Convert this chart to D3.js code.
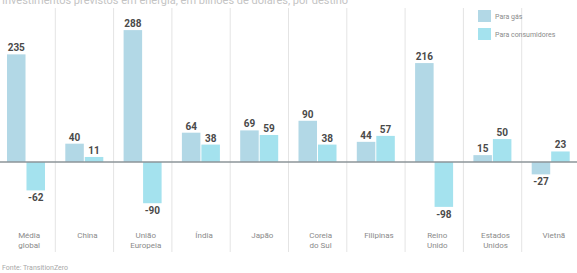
<!DOCTYPE html>
<meta charset="utf-8">
<style>
    body { margin: 0; background: #fff; }
    svg { display: block; font-family: "Liberation Sans Narrow", "Roboto", sans-serif; }
    .grid line { stroke: #e4e4e4; stroke-width: 1; }
    .val { fill: #4a4a4a; font-size: 10px; font-weight: bold; text-anchor: middle; }
    .cat { fill: #8a8a8a; font-size: 8px; text-anchor: middle; }
    .leg text { fill: #8a8a8a; font-size: 7px; }
</style>
<svg width="577" height="273"></svg>
<script src="https://d3js.org/d3.v7.min.js"></script>
<script>

    var categories = [["Média", "global"], ["China"], ["União", "Europeia"], ["Índia"], ["Japão"],
                      ["Coreia", "do Sul"], ["Filipinas"], ["Reino", "Unido"], ["Estados", "Unidos"], ["Vietnã"]];
    var paraGas = [235, 40, 288, 64, 69, 90, 44, 216, 15, -27];
    var paraConsumidores = [-62, 11, -90, 38, 59, 38, 57, -98, 50, 23];
    var seriesNames = ["Para gás", "Para consumidores"];
    var colors = ["#b2d8e6", "#a4e2ee"];

    var svg = d3.select("svg"),
        width = +svg.attr("width"),
        height = +svg.attr("height");

    var x0 = d3.scaleBand()
        .domain(d3.range(categories.length))
        .range([-3, width + 3]);

    var x1 = d3.scaleBand()
        .domain([0, 1])
        .range([10, 48])
        .paddingInner(0.05);

    var y = d3.scaleLinear()
        .domain([-100, 300])
        .range([207.8, 24.6]);

    // cut title line at the very top
    svg.append("text")
        .attr("x", 2)
        .attr("y", 4)
        .attr("fill", "#c4c4c4")
        .attr("font-size", "11px")
        .text("Investimentos previstos em energia, em bilhões de dólares, por destino");

    // separators between countries
    svg.append("g")
        .attr("class", "grid")
        .selectAll("line")
        .data(d3.range(1, categories.length))
        .enter().append("line")
        .attr("x1", function(i) { return x0(i); })
        .attr("x2", function(i) { return x0(i); })
        .attr("y1", 8)
        .attr("y2", 252);

    var rows = categories.map(function(c, i) {
        return [paraGas[i], paraConsumidores[i]];
    });

    var group = svg.append("g")
        .selectAll("g")
        .data(rows)
        .enter().append("g")
        .attr("transform", function(d, i) { return "translate(" + x0(i) + ",0)"; });

    group.selectAll("rect")
        .data(function(d) { return d; })
        .enter().append("rect")
        .attr("x", function(d, j) { return x1(j); })
        .attr("width", x1.bandwidth())
        .attr("y", function(d) { return y(Math.max(0, d)); })
        .attr("height", function(d) { return Math.abs(y(d) - y(0)); })
        .attr("fill", function(d, j) { return colors[j]; });

    group.selectAll("text")
        .data(function(d) { return d; })
        .enter().append("text")
        .attr("class", "val")
        .attr("x", function(d, j) { return x1(j) + x1.bandwidth() / 2; })
        .attr("y", function(d) { return d >= 0 ? y(d) - 3 : y(d) + 11; })
        .text(function(d) { return d; });

    // zero line
    svg.append("line")
        .attr("x1", 0)
        .attr("x2", width)
        .attr("y1", y(0))
        .attr("y2", y(0))
        .attr("stroke", "#8c9499")
        .attr("stroke-width", 1.5);

    // category labels
    svg.append("g")
        .selectAll("text")
        .data(categories)
        .enter().append("text")
        .attr("class", "cat")
        .attr("x", function(d, i) { return x0(i) + x0.bandwidth() / 2 + 3; })
        .attr("y", 238)
        .selectAll("tspan")
        .data(function(d) { return d; })
        .enter().append("tspan")
        .attr("x", function() { return d3.select(this.parentNode).attr("x"); })
        .attr("dy", function(d, k) { return k ? 10 : 0; })
        .text(function(d) { return d; });

    // legend
    var leg = svg.append("g")
        .attr("class", "leg")
        .selectAll("g")
        .data(seriesNames)
        .enter().append("g")
        .attr("transform", function(d, i) { return "translate(478," + (10 + i * 18) + ")"; });

    leg.append("rect")
        .attr("width", 13)
        .attr("height", 12)
        .attr("fill", function(d, i) { return colors[i]; });

    leg.append("text")
        .attr("x", 17)
        .attr("y", 8.5)
        .text(function(d) { return d; });

    // source
    svg.append("text")
        .attr("x", 2)
        .attr("y", 270)
        .attr("fill", "#a8a8a8")
        .attr("font-size", "7px")
        .text("Fonte: TransitionZero");

</script>
